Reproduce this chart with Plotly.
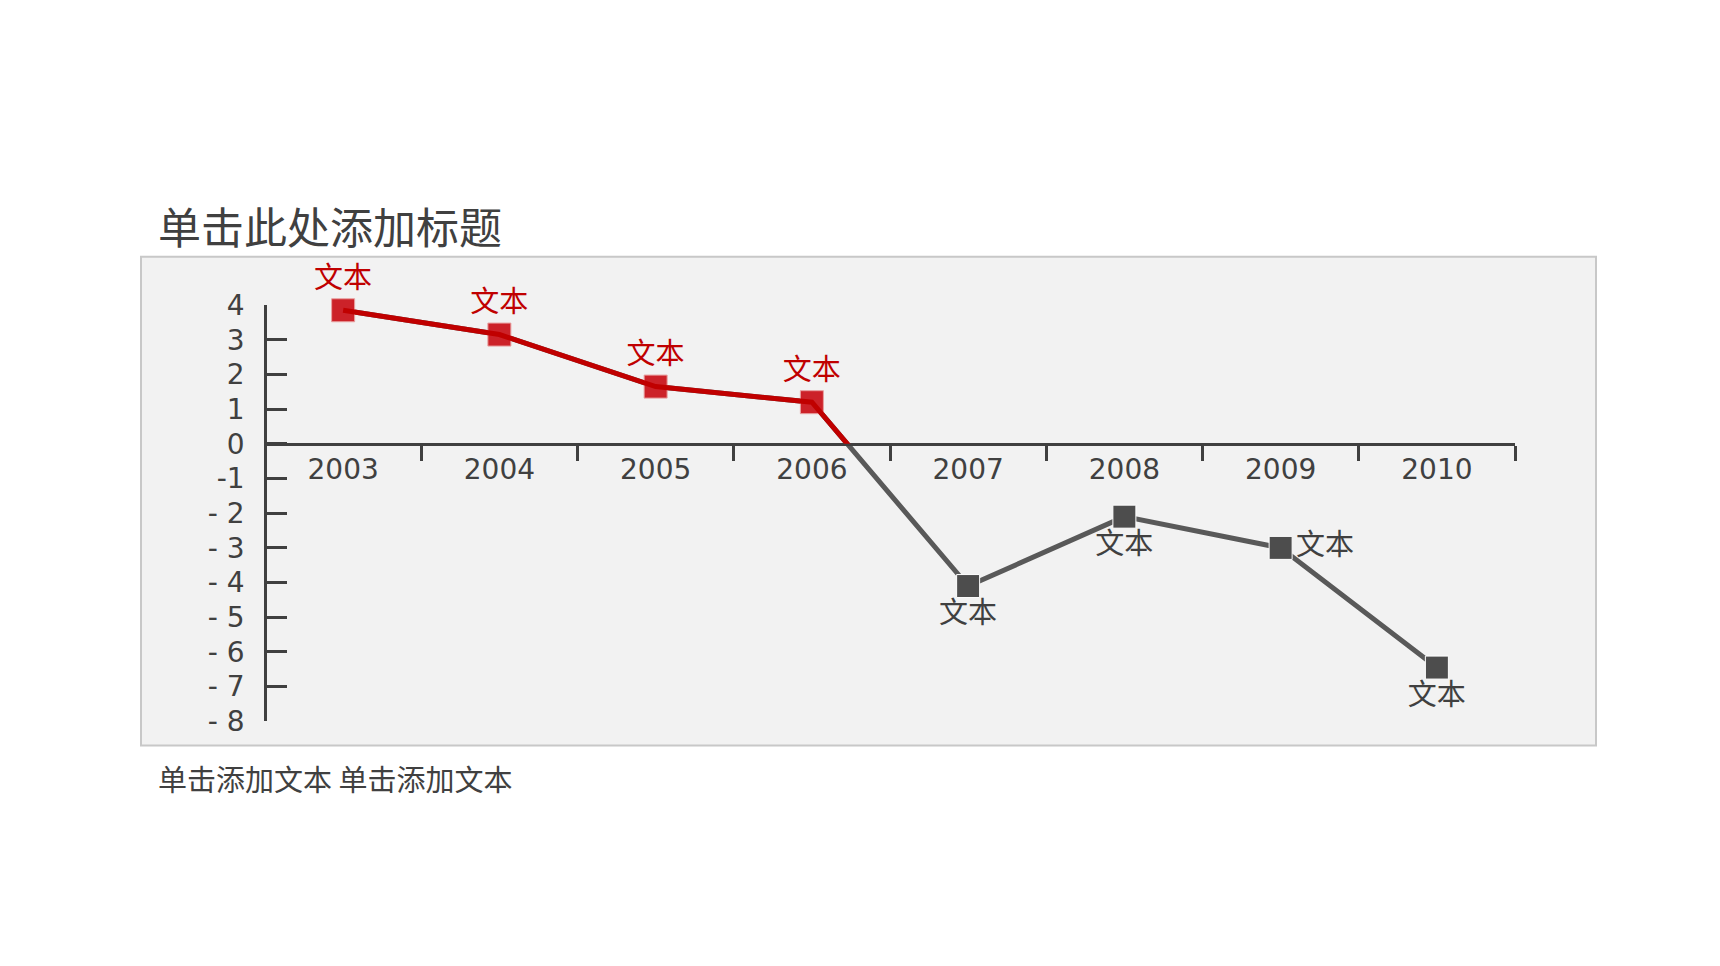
import plotly.graph_objects as go

W, H = 1720, 966

years = ['2003', '2004', '2005', '2006', '2007', '2008', '2009', '2010']
values = [3.85, 3.15, 1.65, 1.2, -4.1, -2.1, -3.0, -6.45]
labels = ['文本'] * 8
label_pos = ['top center', 'top center', 'top center', 'top center',
             'bottom center', 'bottom center', 'middle right', 'bottom center']

y_ticks = [4, 3, 2, 1, 0, -1, -2, -3, -4, -5, -6, -7, -8]
y_ticktext = ['4', '3', '2', '1', '0', '-1', '- 2', '- 3', '- 4', '- 5', '- 6', '- 7', '- 8']

title = '单击此处添加标题'
footer = '单击添加文本 单击添加文本'

RED_LINE = '#c00000'
RED_MARK = '#cc2229'
GRAY_LINE = '#595959'
GRAY_MARK = '#4d4d4d'
AXIS = '#404040'
CJK = 'Noto Sans CJK SC'

ymin, ymax = -8, 4
ydom = [(H - 722) / H, (H - 291) / H]
xdom = [257 / W, 1507 / W]
zero_y = ydom[0] + (0 - ymin) / (ymax - ymin) * (ydom[1] - ydom[0])

pos_idx = [i for i, v in enumerate(values) if v >= 0]
neg_idx = [i for i, v in enumerate(values) if v < 0]

fig = go.Figure()

# full line in gray, then red copy on a second y axis that only covers y >= 0,
# so the red line gets clipped where the series crosses zero
fig.add_trace(go.Scatter(x=years, y=values, mode='lines',
                         line=dict(color=GRAY_LINE, width=5),
                         hoverinfo='skip', showlegend=False))
fig.add_trace(go.Scatter(x=years, y=values, mode='lines', yaxis='y2',
                         line=dict(color=RED_LINE, width=5),
                         hoverinfo='skip', showlegend=False))

fig.add_trace(go.Scatter(
    x=[years[i] for i in pos_idx], y=[values[i] for i in pos_idx],
    mode='markers+text', text=[labels[i] for i in pos_idx],
    textposition=[label_pos[i] for i in pos_idx],
    textfont=dict(family=CJK, size=29, color=RED_LINE),
    marker=dict(symbol='square', size=23, color=RED_MARK,
                line=dict(color='#e8a0a0', width=1)),
    cliponaxis=False, showlegend=False))
fig.add_trace(go.Scatter(
    x=[years[i] for i in neg_idx], y=[values[i] for i in neg_idx],
    mode='markers+text', text=[labels[i] for i in neg_idx],
    textposition=[label_pos[i] for i in neg_idx],
    textfont=dict(family=CJK, size=29, color=AXIS),
    marker=dict(symbol='square', size=23, color=GRAY_MARK,
                line=dict(color='#ffffff', width=1)),
    cliponaxis=False, showlegend=False))

# chart frame
fig.add_shape(type='rect', xref='paper', yref='paper',
              x0=133 / W, x1=1588 / W, y0=(H - 747) / H, y1=(H - 241) / H,
              fillcolor='#f2f2f2', line=dict(color='#c8c8c8', width=2), layer='below')

fig.add_annotation(text=title, xref='paper', yref='paper', x=148 / W, y=(H - 208) / H,
                   xanchor='left', yanchor='middle', showarrow=False,
                   font=dict(family=CJK, size=43, color='#404040'))
fig.add_annotation(text=footer, xref='paper', yref='paper', x=148 / W, y=(H - 781) / H,
                   xanchor='left', yanchor='middle', showarrow=False,
                   font=dict(family=CJK, size=29, color='#404040'))

fig.update_layout(
    width=W, height=H,
    margin=dict(l=0, r=0, t=0, b=0),
    paper_bgcolor='white', plot_bgcolor='rgba(0,0,0,0)',
    showlegend=False,
    xaxis=dict(type='category', domain=xdom, anchor='free', position=zero_y,
               range=[-0.5, len(years) - 0.5],
               showline=True, linecolor=AXIS, linewidth=2.5,
               ticks='outside', tickson='boundaries', ticklen=15, tickwidth=2.5,
               tickcolor=AXIS, showgrid=False, zeroline=False,
               tickfont=dict(family='DejaVu Sans', size=28, color='#404040')),
    yaxis=dict(domain=ydom, range=[ymin, ymax], anchor='free', position=xdom[0],
               tickvals=y_ticks, ticktext=y_ticktext,
               showline=True, linecolor=AXIS, linewidth=2.5,
               ticks='inside', ticklen=20, tickwidth=2.5, tickcolor=AXIS,
               ticklabelstandoff=14,
               showgrid=False, zeroline=False,
               tickfont=dict(family='DejaVu Sans', size=28, color='#404040')),
    yaxis2=dict(domain=[zero_y, ydom[1]], range=[0, ymax], anchor='x',
                visible=False, showgrid=False, zeroline=False),
)

fig.write_html('out.html')
